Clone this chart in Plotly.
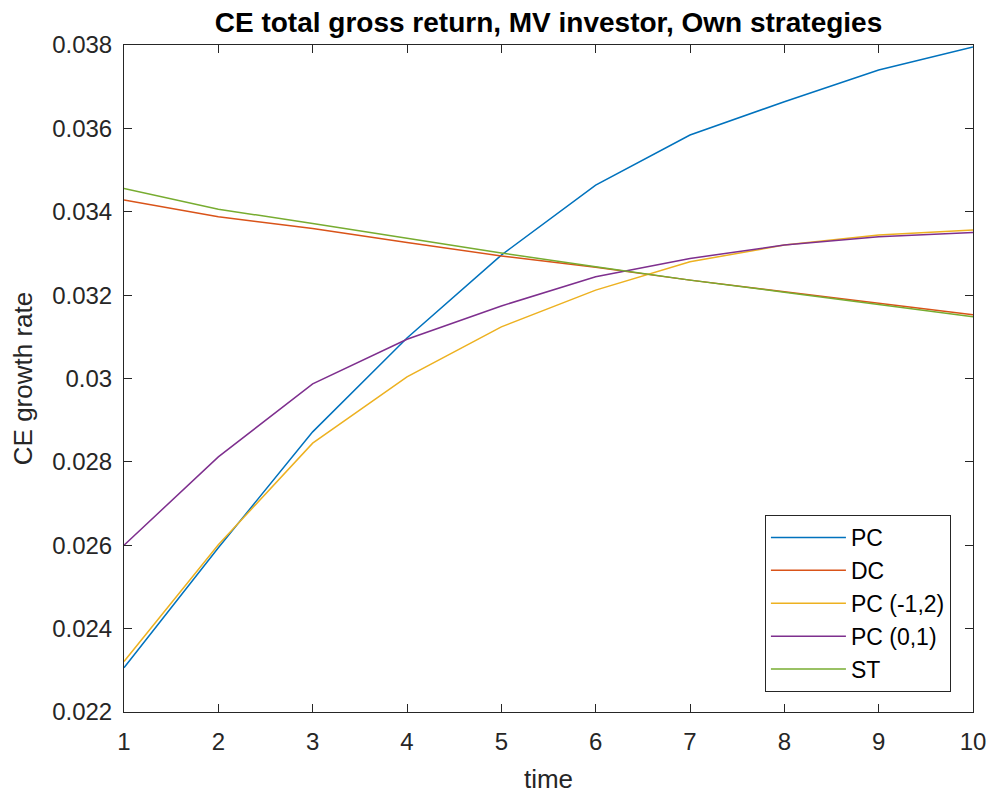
import plotly.graph_objects as go

# Horizon (years)
time = [1, 2, 3, 4, 5, 6, 7, 8, 9, 10]

# Certainty-equivalent growth rates per strategy
pc = [0.02306, 0.02594, 0.02872, 0.03097, 0.03296, 0.03464, 0.03584, 0.03664, 0.03740, 0.03795]
dc = [0.03428, 0.03388, 0.03360, 0.03326, 0.03294, 0.03267, 0.03236, 0.03208, 0.03181, 0.03153]
pc_m12 = [0.02321, 0.02601, 0.02845, 0.03004, 0.03124, 0.03212, 0.03280, 0.03320, 0.03344, 0.03356]
pc_01 = [0.02600, 0.02812, 0.02987, 0.03094, 0.03174, 0.03244, 0.03288, 0.03320, 0.03340, 0.03350]
st = [0.03456, 0.03406, 0.03372, 0.03336, 0.03301, 0.03268, 0.03236, 0.03207, 0.03178, 0.03148]

series_names = ["PC", "DC", "PC (-1,2)", "PC (0,1)", "ST"]
series_colors = ["#0072BD", "#D95319", "#EDB120", "#7E2F8E", "#77AC30"]

y_ticks = [0.022, 0.024, 0.026, 0.028, 0.030, 0.032, 0.034, 0.036, 0.038]
y_tick_text = ["0.022", "0.024", "0.026", "0.028", "0.03", "0.032", "0.034", "0.036", "0.038"]

fig = go.Figure()
for name, vals, color in zip(series_names, [pc, dc, pc_m12, pc_01, st], series_colors):
    fig.add_trace(go.Scatter(x=time, y=vals, mode="lines", name=name,
                             line=dict(color=color, width=1.5)))

axis_color = "#262626"
font_family = "Liberation Sans, Arial, sans-serif"

fig.update_layout(
    width=992, height=796,
    margin=dict(l=124, r=19, t=45, b=84, autoexpand=False),
    paper_bgcolor="white", plot_bgcolor="white",
    font=dict(family=font_family, color=axis_color, size=24),
    title=dict(text="<b>CE total gross return, MV investor, Own strategies</b>",
               x=0.5, xref="paper", xanchor="center", y=0.972, yanchor="middle",
               font=dict(size=28, color="black")),
    showlegend=True,
    legend=dict(x=0.974, y=0.03, xanchor="right", yanchor="bottom",
                bgcolor="white", bordercolor=axis_color, borderwidth=1,
                font=dict(size=23, color="black"), tracegroupgap=0,
                itemwidth=75),
)

fig.update_xaxes(
    range=[1, 10], tickvals=time, ticks="inside", ticklen=8, tickwidth=1,
    tickcolor=axis_color, showline=True, linecolor=axis_color, linewidth=1,
    mirror="ticks", showgrid=False, zeroline=False, ticklabelstandoff=8,
    automargin=False,
    title=dict(text="time", font=dict(size=26), standoff=16),
)
fig.update_yaxes(
    range=[0.022, 0.038], tickvals=y_ticks, ticktext=y_tick_text, ticks="inside",
    ticklen=8, tickwidth=1, tickcolor=axis_color, showline=True,
    linecolor=axis_color, linewidth=1, mirror="ticks", showgrid=False,
    zeroline=False, ticklabelstandoff=6, automargin=False,
    title=dict(text="CE growth rate", font=dict(size=26), standoff=12),
)

fig.write_html("out.html")
